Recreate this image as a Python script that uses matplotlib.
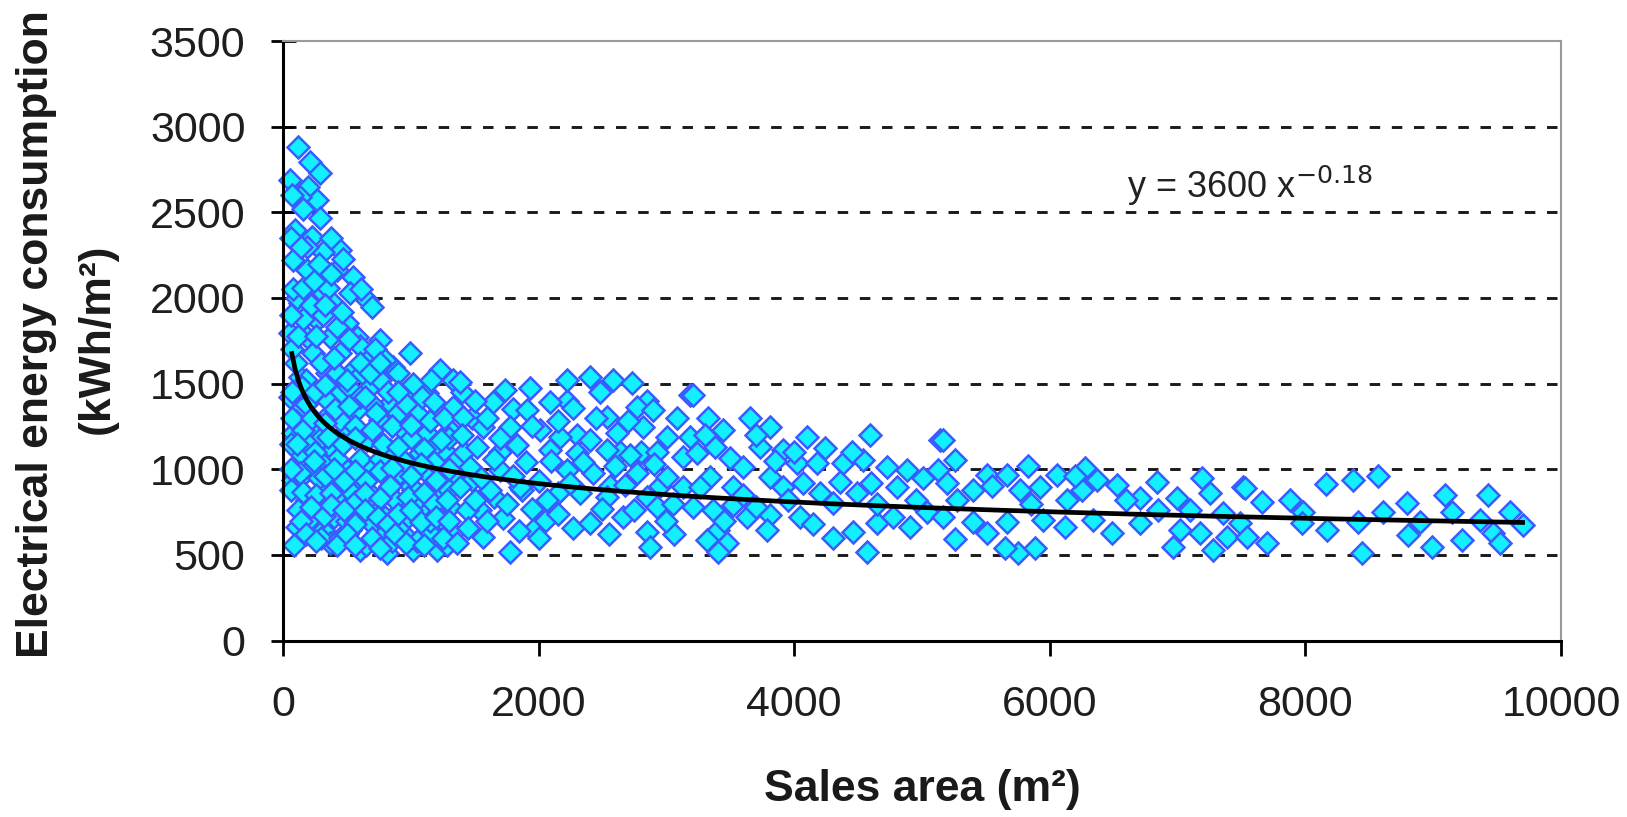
import numpy as np
import matplotlib
matplotlib.use("Agg")
import matplotlib.pyplot as plt

plt.rcParams['font.family'] = ['Liberation Sans', 'DejaVu Sans']

# stores below 1400 m2
small_area = [120, 211, 290, 55, 198, 264, 133, 290, 94, 225, 446, 316, 81, 185, 420, 551, 290, 524, 655, 133,
              394, 264, 498, 55, 185, 368, 577, 759, 994, 655, 446, 237, 863, 1228, 551, 342, 133, 1333, 681, 968,
              1124, 446, 237, 55, 837, 577, 1046, 1228, 1333, 368, 133, 759, 942, 1124, 1307, 498, 264, 81, 655, 837,
              1072, 1281, 394, 133, 237, 498, 707, 915, 1124, 1333, 81, 342, 603, 811, 1020, 1228, 185, 446, 681, 915,
              1124, 1307, 107, 316, 524, 733, 942, 1150, 1333, 603, 811, 1020, 1202, 368,
              70, 160, 380, 470, 610, 700, 310, 160, 420, 600, 720, 800, 900, 1020, 1160, 760, 300, 100, 180, 420,
              520, 600, 700, 900, 1150, 1260, 350, 180, 450, 560, 850, 1000, 1200, 300, 200, 60, 100, 420, 600, 760,
              950, 1180, 300, 150, 280, 420, 520, 700, 880, 1050, 1250, 1150, 950, 800, 600, 400, 250, 120, 60, 200,
              300, 450, 650, 850, 1050, 1280, 500, 700, 900, 1000, 1300, 1350, 1300, 70, 70, 110, 60, 220, 350, 280,
              190, 380]
small_cons = [2883, 2796, 2728, 2690, 2650, 2572, 2591, 2465, 2397, 2358, 2280, 2270, 2222, 2163, 2163, 2124, 2047, 2027, 1988, 1969,
              1969, 1872, 1852, 1794, 1774, 1774, 1774, 1755, 1677, 1677, 1677, 1677, 1599, 1580, 1580, 1560, 1541, 1521, 1482, 1463,
              1444, 1444, 1424, 1424, 1385, 1346, 1327, 1346, 1365, 1327, 1346, 1288, 1229, 1210, 1229, 1229, 1229, 1210, 1171, 1113,
              1093, 1093, 1113, 1093, 1015, 996, 1015, 977, 977, 957, 938, 898, 898, 879, 879, 860, 821, 801, 782, 762,
              762, 782, 665, 646, 646, 626, 626, 626, 626, 529, 510, 529, 529, 568,
              2600, 2520, 2350, 2230, 2050, 1950, 1900, 1880, 1830, 1720, 1700, 1640, 1560, 1500, 1520, 1520, 1620, 1620, 1520, 1560,
              1480, 1420, 1380, 1330, 1280, 1300, 1400, 1380, 1290, 1250, 1250, 1180, 1150, 1180, 1150, 1150, 1280, 1060, 1060, 1060,
              1050, 1040, 1040, 960, 950, 930, 880, 850, 820, 820, 700, 700, 700, 720, 740, 720, 760, 760, 880, 700,
              600, 600, 560, 580, 580, 560, 700, 680, 660, 900, 880, 1050, 1180, 1300, 1700, 2000, 1900, 1960, 2060, 2200,
              2300, 2140]

# the crowded part of the cloud, up to about 3000 m2
dense_area = [150, 250, 330, 500, 620, 160, 230, 330, 410, 520, 640, 730, 820, 960, 1090, 1180, 110, 250, 350, 470,
              560, 700, 780, 900, 1000, 1100, 1240, 130, 240, 330, 400, 560, 650, 760, 850, 1000, 1080, 1200, 1300, 160,
              260, 380, 480, 560, 640, 760, 840, 980, 1100, 1180, 1280, 140, 220, 320, 380, 480, 560, 640, 740, 820,
              900, 1000, 1080, 1200, 1300, 180, 260, 420, 500, 560, 700, 760, 880, 960, 1100, 1250, 90, 60, 70, 120,
              80, 160, 60, 140, 240, 330, 260, 460, 520, 400, 600, 680, 760, 900, 1400, 1480, 1420, 1480, 1540, 1650,
              1700, 1800, 1870, 2050, 2150, 2220, 2300, 2480, 2560, 2640, 2800, 2850, 2950, 3080, 3060]
dense_cons = [1480, 1450, 1490, 1520, 1560, 1230, 1300, 1270, 1350, 1370, 1420, 1330, 1450, 1380, 1420, 1390, 1150, 1100, 1190, 1150,
              1180, 1230, 1150, 1130, 1260, 1120, 1170, 980, 1050, 960, 1000, 990, 930, 990, 1010, 960, 1030, 940, 1000, 870,
              850, 860, 930, 810, 860, 830, 900, 840, 860, 800, 820, 700, 780, 730, 790, 760, 680, 760, 720, 680,
              740, 760, 690, 720, 700, 620, 580, 560, 620, 560, 600, 540, 620, 570, 560, 600, 560, 1000, 1450, 1780,
              2050, 2060, 2350, 2300, 2100, 1960, 1780, 1920, 1760, 1650, 1620, 1560, 1620, 1450, 1450, 1300, 1100, 940, 760, 840,
              1100, 1350, 880, 700, 860, 1400, 1200, 1450, 900, 1100, 1100, 1400, 900, 1300, 620]

# 1400 - 3200 m2
mid_area = [1385, 1737, 1933, 2220, 2402, 2585, 2729, 3185, 1646, 1907, 2089, 2272, 2533, 2768, 2898, 1411, 1567, 1776, 2011, 2167,
            2402, 2611, 2819, 3002, 3185, 1515, 1828, 2089, 2298, 2533, 2715, 2924, 3133, 1463, 1698, 2220, 2428, 2768, 3002, 1385,
            1620, 1855, 2063, 2324, 2533, 2846, 3133, 1437, 1724, 1959, 2272, 2402, 2663, 2846, 2872, 1776, 1567, 1359, 2924,
            1500, 1600, 1950, 2150, 2450, 2700, 1650, 1900, 2100, 2350, 2600, 2900, 1550, 1800, 2000, 2250, 2680, 1500, 1750, 1950,
            2150, 2500, 2750, 3050, 1600, 1850, 2000, 2550, 3000, 1450, 1400, 1700]
mid_cons = [1512, 1463, 1473, 1521, 1541, 1521, 1502, 1434, 1395, 1346, 1395, 1356, 1307, 1365, 1346, 1307, 1249, 1249, 1229, 1190,
            1171, 1210, 1249, 1190, 1190, 1132, 1142, 1113, 1093, 1113, 1083, 1103, 1074, 1015, 996, 996, 977, 977, 957, 898,
            879, 898, 821, 860, 840, 840, 898, 762, 714, 646, 656, 685, 723, 636, 548, 519, 607, 568, 782,
            1400, 1300, 1250, 1280, 1300, 1280, 1060, 1040, 1050, 1040, 1020, 1030, 950, 960, 930, 920, 910, 820, 800, 770,
            740, 770, 760, 800, 700, 640, 600, 620, 700, 660, 1200, 1180]

# 3200 - 5200 m2
upper_area = [3210, 3328, 3445, 3654, 3811, 4098, 4241, 4593, 5141, 3380, 3237, 3498, 3732, 3915, 4019, 4176, 4384, 4541, 4724, 4880,
              5010, 5128, 3602, 3811, 3341, 3210, 3367, 3524, 3628, 3811, 3785, 4045, 3406, 3315, 3472, 3406, 4306, 4463, 4567, 4645,
              4776, 4906, 5037, 4306, 4489, 4802, 4358, 4071, 3915, 3524, 3263, 5167, 5193,
              3700, 4000, 4450, 3300, 3600, 3950, 4200, 4650, 4950, 3700, 3450, 4150, 4600, 3850]
upper_cons = [1434, 1298, 1229, 1298, 1249, 1190, 1123, 1200, 1171, 1132, 1093, 1064, 1132, 1113, 1035, 1035, 1035, 1054, 1015, 996,
              947, 996, 1015, 957, 957, 782, 762, 792, 723, 733, 646, 723, 646, 587, 568, 519, 597, 636, 519, 685,
              723, 665, 752, 801, 860, 898, 928, 918, 898, 898, 898, 723, 918,
              1200, 1100, 1100, 1200, 850, 820, 860, 800, 820, 780, 700, 680, 920, 1050]

# 5200 - 7550 m2
large_area = [5167, 5258, 5832, 6275, 5506, 5663, 6054, 6523, 6836, 7188, 7514, 5401, 5923, 6367, 6706, 6993, 7254, 5271, 5401, 5506,
              5258, 5663, 5754, 5650, 5884, 5949, 6119, 6341, 6484, 6706, 7019, 6967, 7280, 7175, 7384, 7488, 6132, 5767, 6597, 7358,
              5550, 5850, 6250, 6850, 7100, 6200]
large_cons = [1171, 1054, 1019, 1006, 967, 967, 967, 908, 928, 947, 898, 879, 898, 937, 831, 831, 860, 821, 694, 626,
              591, 694, 510, 539, 539, 704, 665, 704, 626, 685, 646, 548, 529, 626, 607, 685, 821, 879, 821, 743,
              900, 800, 880, 760, 760, 960]

# biggest stores
xl_area = [8161, 8376, 8571, 7527, 7658, 7879, 7983, 7971, 8166, 8414, 8609, 8792, 8805, 8897, 8988, 8440, 9092, 9145, 9223, 9431,
           9366, 9471, 9523, 9601, 9705, 7697, 7540]
xl_cons = [914, 937, 963, 889, 811, 821, 752, 685, 646, 694, 752, 801, 616, 694, 548, 510, 850, 752, 587, 850,
           704, 626, 568, 752, 675, 568, 607]

# power-law fit y = a * x^b
fit_a = 3600
fit_b = -0.18
fit_from = 70
fit_to = 9700

area = np.array(small_area + dense_area + mid_area + upper_area + large_area + xl_area)
cons = np.array(small_cons + dense_cons + mid_cons + upper_cons + large_cons + xl_cons)

fig = plt.figure(figsize=(16.27, 8.17), dpi=100)
ax = fig.add_axes([0.1739, 0.2159, 0.7855, 0.7339])

for yv in [500, 1000, 1500, 2000, 2500, 3000]:
    ax.axhline(yv, color='#1a1a1a', lw=2.1, dashes=(3.6, 4), zorder=1)

ax.plot(area, cons, 'D', ms=11, mfc='#12F0FF', mec='#3A5CFF', mew=1.8, zorder=2, clip_on=False)

xf = np.linspace(fit_from, fit_to, 400)
ax.plot(xf, fit_a * xf ** fit_b, color='black', lw=3.4, zorder=3)

ax.text(6604, 2584, r'y = 3600 x$^{-0.18}$', fontsize=26, va='baseline', ha='left', color='#222222')

ax.set_xlim(0, 10000)
ax.set_ylim(0, 3500)
ax.set_xticks(range(0, 10001, 2000))
ax.set_yticks(range(0, 3501, 500))

for side in ['left', 'bottom']:
    ax.spines[side].set_linewidth(2.2)
    ax.spines[side].set_color('black')
for side in ['top', 'right']:
    ax.spines[side].set_linewidth(1.5)
    ax.spines[side].set_color('#9a9a9a')

ax.tick_params(axis='y', direction='inout', length=18, width=2, pad=18, labelsize=31, labelcolor='#1e1e1e')
ax.tick_params(axis='x', direction='out', length=11, width=2, pad=21, labelsize=31, labelcolor='#1e1e1e')

fig.text(922 / 1627, 1 - 789 / 817, 'Sales area (m²)', fontsize=32, fontweight='bold',
         ha='center', va='center', color='#1a1a1a')
fig.text(37 / 1627, 1 - 334 / 817, 'Electrical energy consumption', fontsize=32, fontweight='bold',
         rotation=90, ha='center', va='center', color='#1a1a1a')
fig.text(97 / 1627, 1 - 339 / 817, '(kWh/m²)', fontsize=32, fontweight='bold',
         rotation=90, ha='center', va='center', color='#1a1a1a')

fig.savefig('out.png', dpi=100)
